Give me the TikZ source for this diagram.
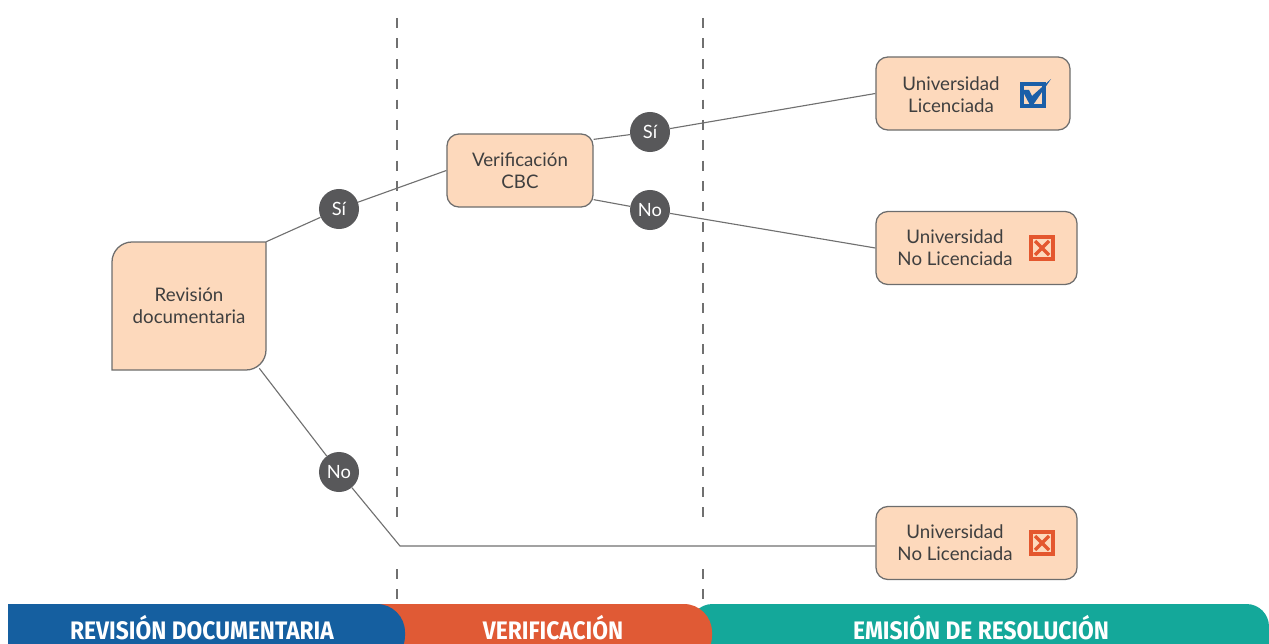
\documentclass[tikz,border=0pt]{standalone}
\usepackage{fontspec}
\setmainfont{Lato}
\newfontfamily\barfont[FakeStretch=0.9]{Fira Sans}
\usetikzlibrary{positioning}

\definecolor{boxfill}{HTML}{FDD9BC}
\definecolor{boxline}{HTML}{6D6D6D}
\definecolor{linkgray}{HTML}{707070}
\definecolor{dotgray}{HTML}{58585A}
\definecolor{txtgray}{HTML}{3F3F3F}
\definecolor{barblue}{HTML}{155FA0}
\definecolor{barorange}{HTML}{E05A35}
\definecolor{barteal}{HTML}{14A89A}
\definecolor{tickblue}{HTML}{1B5FA8}
\definecolor{crossred}{HTML}{E4572E}

\tikzset{
  stagebox/.style={draw=boxline, fill=boxfill, line width=0.9pt, rounded corners=8.5pt,
    minimum height=1.825cm},
  boxtext/.style={text=txtgray, align=center, font=\fontsize{13.3}{15.5}\selectfont},
  answer/.style={circle, fill=dotgray, minimum size=1cm, inner sep=0pt, text=white,
    font=\fontsize{13}{15}\selectfont},
  link/.style={draw=linkgray, line width=0.8pt},
  stageline/.style={draw=linkgray, line width=0.8pt, dash pattern=on 7pt off 7.5pt},
  bartext/.style={text=white, anchor=base, inner sep=0pt,
    font=\barfont\bfseries\fontsize{18}{21}\selectfont}
}

% check and cross marks, centred on a coordinate
\newcommand{\tickmark}[1]{%
  \begin{scope}[shift={(#1)}]
    \draw[tickblue, line width=2.2pt] (-11,-11) rectangle (11,11);
    \fill[tickblue] (-11,-5) -- (-4,-5) -- (-1,1) -- (18,-16) -- (0,10) -- (-3,10) -- cycle;
  \end{scope}}
\newcommand{\crossmark}[1]{%
  \begin{scope}[shift={(#1)}]
    \draw[crossred, line width=2.2pt] (-11,-11) rectangle (11,11);
    \draw[crossred, line width=2.4pt] (-7,-7) -- (7,7) (-7,7) -- (7,-7);
  \end{scope}}

\begin{document}
\begin{tikzpicture}[x=0.025cm, y=-0.025cm]
  \useasboundingbox (0,0) rectangle (1269,644);
  % Draw stage separators
  \draw[stageline] (397,18) -- (397,519);
  \draw[stageline] (397,569) -- (397,599);
  \draw[stageline] (703,18) -- (703,519);
  \draw[stageline] (703,569) -- (703,599);
  % Draw first box (two rounded corners only)
  \draw[draw=boxline, fill=boxfill, line width=0.9pt]
    (112,370) -- (112,262) .. controls (112,251) and (121,242) .. (132,242) -- (266,242)
    -- (266,350) .. controls (266,361) and (257,370) .. (246,370) -- cycle;
  \node[boxtext, minimum width=3.85cm, minimum height=3.2cm] (rev) at (189,306)
    {Revisión\\documentaria};
  % Add other boxes
  \node[stagebox, boxtext, minimum width=3.65cm] (verif) at (520,170.5)
    {Verificación\\CBC};
  \node[stagebox, minimum width=4.85cm] (ulic) at (973,93.5) {};
  \node[stagebox, minimum width=5.025cm] (unolic) at (976.5,248) {};
  \node[stagebox, minimum width=5.025cm] (unolicb) at (976.5,543) {};
  \node[boxtext] (ulictext) at (951,95) {Universidad\\Licenciada};
  \node[boxtext] (unolictext) at (955,247.5) {Universidad\\No Licenciada};
  \node[boxtext] (unolicbtext) at (955,542.5) {Universidad\\No Licenciada};
  % Add marks
  \tickmark{1033,95}
  \crossmark{1042,248}
  \crossmark{1042,543}
  % Add answer dots
  \node[answer] (si1) at (339,209) {Sí};
  \node[answer] (no1) at (339,472) {No};
  \node[answer] (si2) at (650,132) {Sí};
  \node[answer] (no2) at (650,210) {No};
  % Draw connectors
  \coordinate (bend) at (400,546);
  \draw[link] (rev.north east) -- (si1) -- (verif.west);
  \draw[link] ([shift={(-7,-2)}]rev.south east) -- (no1) -- (bend) -- (bend -| unolicb.west);
  \draw[link] ([shift={(0,6)}]verif.north east) -- (si2) -- (ulic.west);
  \draw[link] ([shift={(0,-8)}]verif.south east) -- (no2) -- (unolic.west);
  % Draw bottom bar
  \fill[barteal, rounded corners=16] (690,604) rectangle (1269,700);
  \fill[barorange] (380,604) rectangle (680,664);
  \fill[barorange, rounded corners=20] (640,604) rectangle (712,664);
  \fill[barblue] (8,604) rectangle (380,664);
  \fill[barblue, rounded corners=20] (340,604) rectangle (405,664);
  \node[bartext] (tab1) at (202,639) {REVISIÓN DOCUMENTARIA};
  \node[bartext] (tab2) at (553,639) {VERIFICACIÓN};
  \node[bartext] (tab3) at (981,639) {EMISIÓN DE RESOLUCIÓN};
\end{tikzpicture}
\end{document}
